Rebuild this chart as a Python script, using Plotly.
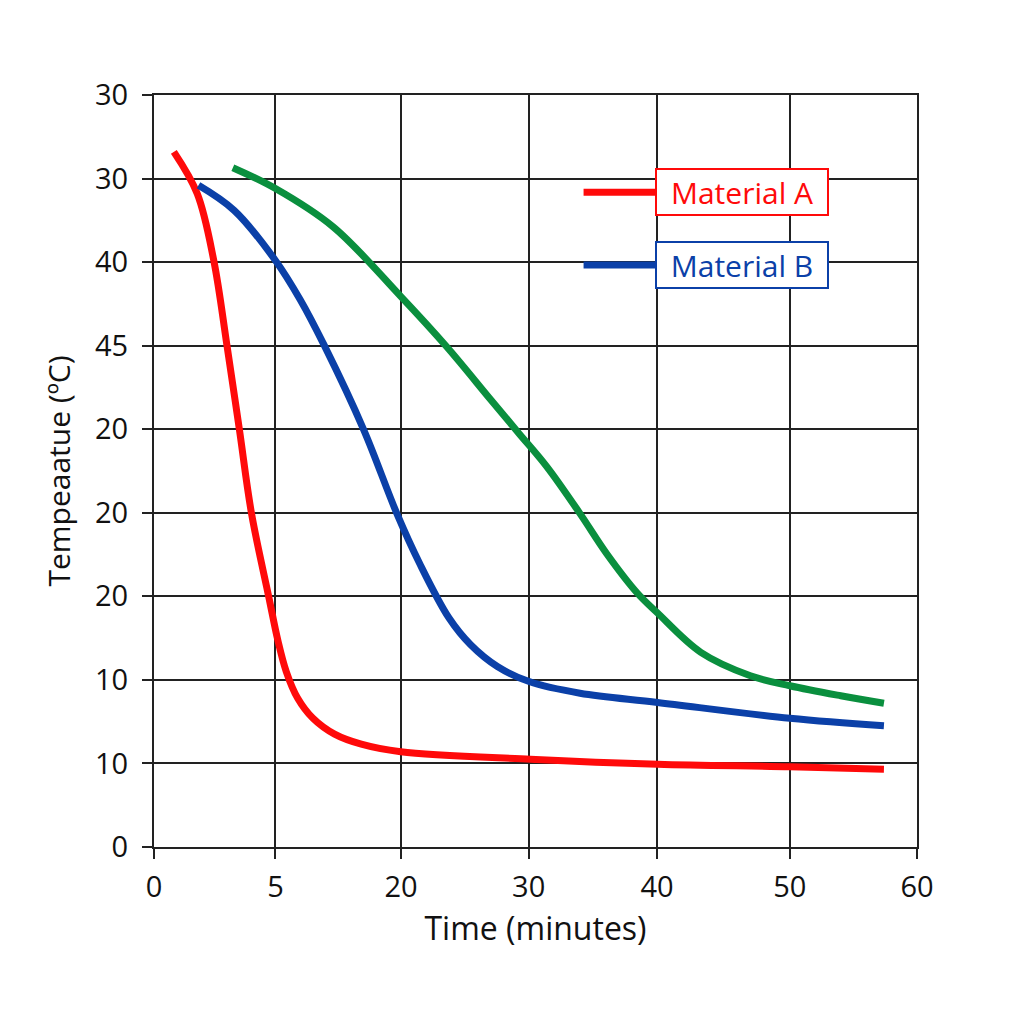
import plotly.graph_objects as go

# readings (x = minutes, y = grid units)
time_a = [1.56, 3.4, 4.7, 5.75, 6.72, 7.67, 9.03, 9.73, 10.4, 11.3, 12.5, 14.2, 16.3, 19.4, 29.6, 39.6, 50.0, 57.4]
temp_a = [83.2, 78.2, 70.2, 59.9, 49.9, 39.9, 29.9, 24.8, 21.0, 17.8, 15.4, 13.5, 12.3, 11.4, 10.5, 9.9, 9.6, 9.3]

time_b = [3.5, 6.3, 9.55, 11.5, 13.4, 16.5, 19.1, 20.9, 23.2, 24.9, 27.0, 29.5, 33.5, 39.6, 50.0, 57.4]
temp_b = [79.2, 76.2, 70.2, 65.5, 60.0, 49.9, 39.9, 33.9, 27.4, 24.2, 21.6, 19.8, 18.4, 17.3, 15.4, 14.5]

time_c = [6.2, 9.55, 14.1, 19.4, 23.0, 26.5, 28.7, 30.9, 33.5, 35.6, 38.0, 39.6, 43.0, 46.9, 50.0, 54.0, 57.4]
temp_c = [81.3, 78.8, 74.2, 65.9, 59.9, 53.5, 49.5, 45.5, 39.9, 35.1, 30.4, 28.0, 23.3, 20.5, 19.3, 18.1, 17.2]

# the vertical grid in the picture is not quite evenly spaced
x_tick_pos = [0, 9.55, 19.43, 29.46, 39.56, 50.0, 60]
x_labels = ["0", "5", "20", "30", "40", "50", "60"]
y_tick_pos = [0, 10, 20, 30, 40, 50, 60, 70, 80, 90]
y_labels = ["0", "10", "10", "20", "20", "20", "45", "40", "30", "30"]

RED = "#ff0a0a"
BLUE = "#0b40a8"
GREEN = "#0a8f3e"
FONT = "Open Sans"
INK = "#111111"

fig = go.Figure()
for xs, ys, col, name in [(time_a, temp_a, RED, "Material A"),
                          (time_b, temp_b, BLUE, "Material B"),
                          (time_c, temp_c, GREEN, "Material C")]:
    fig.add_trace(go.Scatter(x=xs, y=ys, mode="lines", name=name,
                             line=dict(color=col, width=7, shape="spline", smoothing=1.0)))

axis_common = dict(showgrid=True, gridcolor="#222222", gridwidth=2,
                   showline=True, linecolor="#222222", linewidth=2, mirror=True,
                   ticks="outside", ticklen=10, tickwidth=2, tickcolor="#222222",
                   zeroline=False, tickfont=dict(family=FONT, size=29, color=INK))

fig.update_xaxes(range=[0, 60], tickvals=x_tick_pos, ticktext=x_labels, ticklabelstandoff=3,
                 title=dict(text="Time (minutes)", font=dict(family=FONT, size=32, color=INK), standoff=14),
                 **axis_common)
fig.update_yaxes(range=[0, 90], tickvals=y_tick_pos, ticktext=y_labels, ticklabelstandoff=8,
                 title=dict(text="Tempeaatue (ºC)", font=dict(family=FONT, size=30, color=INK), standoff=16),
                 **axis_common)

# boxed legend labels with short line samples
for col, name, ypos in [(RED, "Material A", 0.8706), (BLUE, "Material B", 0.774)]:
    fig.add_shape(type="line", xref="paper", yref="paper", x0=0.563, x1=0.657, y0=ypos, y1=ypos,
                  line=dict(color=col, width=7))
    fig.add_annotation(xref="paper", yref="paper", x=0.657, y=ypos, xanchor="left", yanchor="middle",
                       text=name, showarrow=False, font=dict(family=FONT, size=30, color=col),
                       bordercolor=col, borderwidth=2, borderpad=1, bgcolor="white",
                       width=168, height=42, align="center")

# page body adds an 8px offset, margins compensate for it
fig.update_layout(width=1024, height=1024, showlegend=False,
                  plot_bgcolor="white", paper_bgcolor="white",
                  margin=dict(l=146, r=115, t=87, b=185))

fig.write_html("out.html")
